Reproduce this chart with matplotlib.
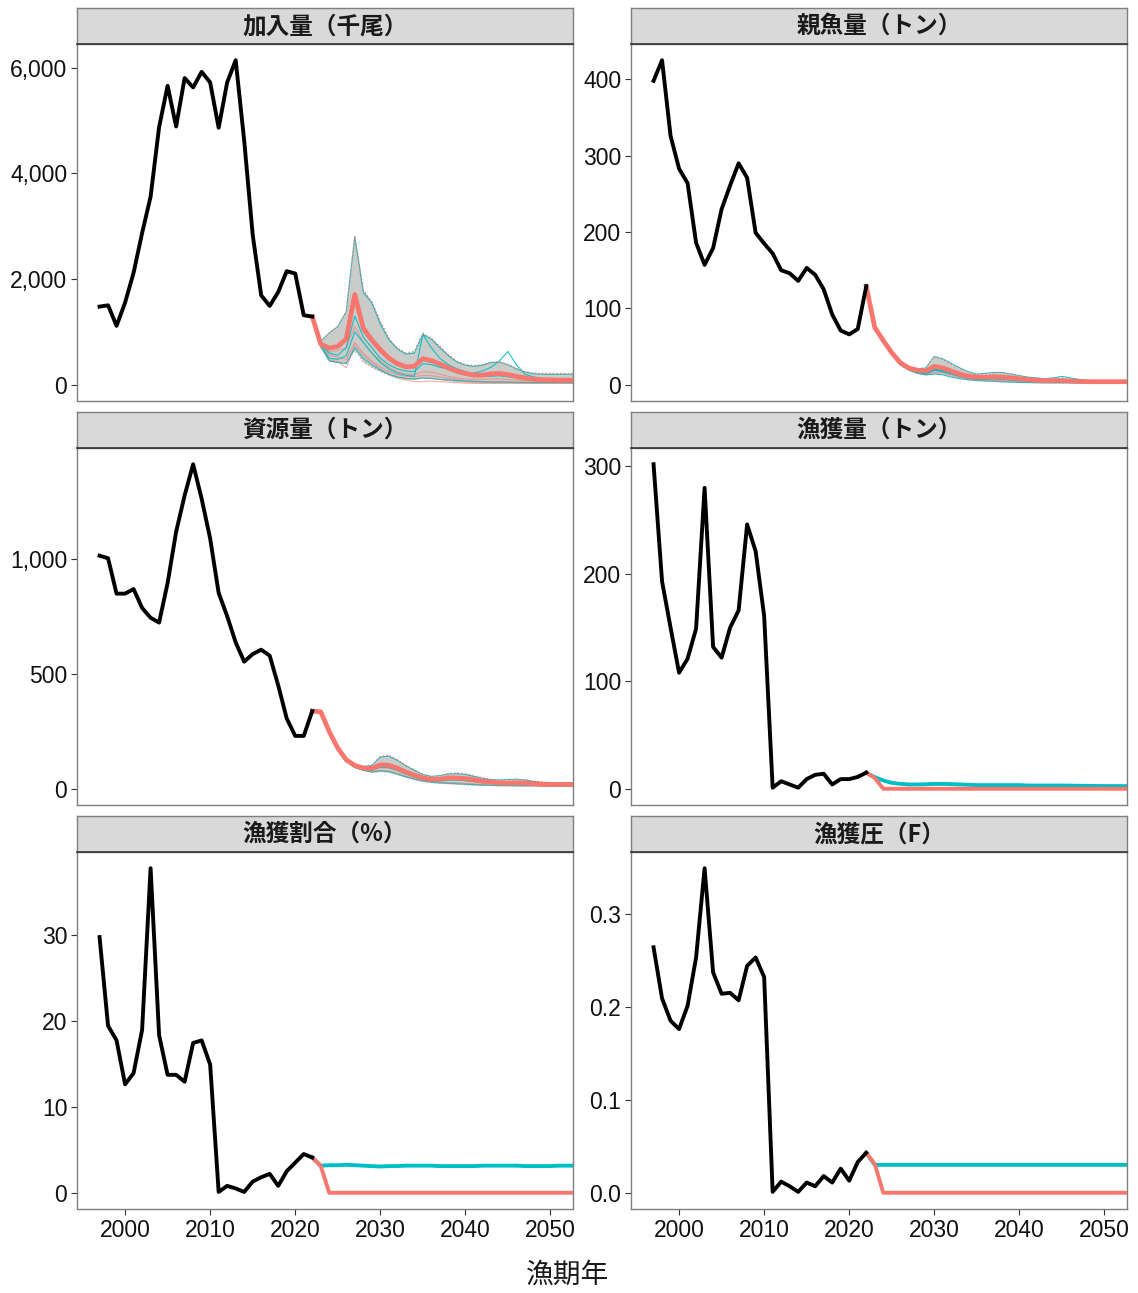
import matplotlib
matplotlib.use("Agg")
import matplotlib.pyplot as plt
import numpy as np
from matplotlib.ticker import FuncFormatter

plt.rcParams["font.family"] = ["Liberation Sans", "Noto Sans CJK JP", "DejaVu Sans"]

SALMON = "#F8766D"
CYAN = "#00BFC4"

YEARS_OBS = np.arange(1997, 2023)
YEARS_PRJ = np.arange(2023, 2054)

TITLES = ["加入量（千尾）", "親魚量（トン）", "資源量（トン）",
          "漁獲量（トン）", "漁獲割合（%）", "漁獲圧（F）"]

# ---- 観測値 (1997-2022)
rec_obs = [1478, 1503, 1115, 1553, 2117, 2868, 3557, 4873, 5655, 4885, 5800, 5624, 5918,
           5718, 4860, 5718, 6138, 4622, 2837, 1691, 1491, 1754, 2148, 2104, 1315, 1290]
ssb_obs = [398, 425, 326, 283, 264, 186, 157, 179, 230, 261, 290, 271, 199,
           185, 172, 150, 146, 136, 153, 144, 125, 92, 71, 66, 73, 129]
bio_obs = [1014, 1003, 849, 849, 869, 787, 744, 723, 895, 1118, 1276, 1412, 1262,
           1089, 852, 751, 637, 553, 586, 605, 579, 450, 306, 230, 230, 338]
cat_obs = [302, 193, 150, 108, 121, 149, 280, 132, 122, 150, 166, 246, 221,
           161, 1, 7, 4, 1, 9, 13, 14, 4, 9, 9, 11, 15]
pct_obs = [29.7, 19.4, 17.7, 12.6, 13.9, 18.9, 37.7, 18.3, 13.7, 13.7, 12.9, 17.4, 17.7,
           14.9, 0.1, 0.8, 0.5, 0.1, 1.3, 1.8, 2.2, 0.8, 2.5, 3.5, 4.5, 4.1]
f_obs = [0.264, 0.209, 0.185, 0.176, 0.201, 0.253, 0.349, 0.237, 0.214, 0.215, 0.207, 0.244, 0.253,
         0.232, 0.001, 0.012, 0.007, 0.001, 0.011, 0.007, 0.018, 0.011, 0.026, 0.013, 0.033, 0.043]

# ---- 将来予測 (2023-2053)  加入量
rec_med_s = [769, 694, 725, 869, 1706, 1069, 850, 663, 506, 400, 338, 350, 494, 456, 394, 319,
             256, 213, 181, 181, 206, 213, 194, 156, 131, 106, 94, 94, 88, 88, 88]
rec_med_c = [770, 690, 720, 860, 1650, 1030, 820, 640, 490, 390, 330, 340, 470, 440, 380, 300,
             240, 200, 170, 170, 190, 200, 180, 145, 120, 100, 85, 80, 75, 75, 75]
rec_hi = [819, 975, 1100, 1381, 2806, 1788, 1569, 1194, 881, 694, 600, 631, 975, 881, 725, 569,
          444, 381, 363, 381, 425, 431, 381, 306, 244, 219, 213, 213, 213, 213, 213]
rec_lo = [740, 440, 430, 420, 650, 430, 330, 250, 180, 130, 110, 100, 130, 120, 100, 80,
          60, 50, 45, 40, 40, 40, 38, 36, 35, 35, 35, 35, 35, 35, 35]
rec_thin_c = [
    [820, 980, 1100, 1380, 2800, 1750, 1550, 1150, 850, 680, 580, 600, 950, 860, 700, 550,
     430, 370, 350, 370, 420, 430, 380, 300, 240, 210, 200, 200, 200, 200, 200],
    [780, 600, 560, 700, 1300, 900, 700, 500, 380, 300, 260, 250, 400, 380, 330, 300,
     260, 230, 220, 260, 330, 450, 630, 380, 200, 150, 120, 110, 100, 100, 100],
    [760, 500, 480, 550, 1000, 800, 600, 420, 300, 220, 180, 160, 950, 700, 500, 380,
     300, 250, 200, 170, 160, 170, 150, 130, 110, 100, 90, 80, 80, 80, 80],
    [720, 450, 420, 400, 700, 500, 380, 280, 200, 150, 120, 110, 130, 120, 100, 90,
     80, 70, 60, 55, 50, 50, 50, 45, 45, 40, 40, 40, 40, 40, 40],
]
rec_thin_s = [
    [740, 560, 520, 480, 800, 600, 450, 340, 250, 190, 160, 150, 180, 170, 150, 120,
     100, 80, 70, 60, 60, 60, 55, 50, 50, 45, 45, 45, 45, 45, 45],
    [700, 470, 440, 320, 750, 560, 420, 300, 200, 130, 90, 60, 60, 70, 60, 50,
     40, 30, 25, 25, 25, 25, 25, 25, 25, 25, 25, 25, 25, 25, 25],
    [760, 620, 650, 700, 1100, 800, 600, 450, 330, 250, 200, 190, 250, 240, 200, 160,
     130, 110, 100, 100, 110, 110, 100, 90, 80, 70, 60, 60, 60, 60, 60],
]

# 親魚量
ssb_med_s = [75, 58, 42, 29, 22, 19, 18, 24, 22, 18, 14, 11, 10, 10, 10.5, 10,
             9, 8, 7, 6, 5.5, 5.5, 5.5, 5, 4.5, 4, 4, 4, 4, 4, 4]
ssb_med_c = [75, 57, 41, 28, 21, 17, 15, 20, 18, 15, 12, 9.5, 8, 8, 8.5, 8,
             7, 6, 5.5, 5, 4.5, 4.5, 4.5, 4, 3.8, 3.5, 3.2, 3, 3, 3, 3]
ssb_hi = [75, 59, 43, 30, 23, 21, 21, 37, 33, 27, 21, 16.5, 13, 14, 15.5, 15.5,
          14, 11, 9, 8, 7, 8, 9, 7, 6, 5, 5, 5, 5, 5, 5]
ssb_lo = [74, 55, 39, 26, 19, 15, 13, 15, 14, 11, 9, 7, 6, 5, 4.5, 4,
          3.5, 3, 2.8, 2.6, 2.5, 2.5, 2.5, 2.5, 2.4, 2.3, 2.2, 2.2, 2.2, 2.2, 2.2]
ssb_thin_c = [
    [75, 58, 43, 30, 23, 21, 22, 37, 34, 28, 22, 17, 14, 15, 16, 16,
     14, 12, 10, 9, 8, 9, 11, 9, 7, 6, 5, 5, 5, 5, 5],
    [74, 55, 39, 26, 19, 15, 13, 14, 13, 10, 8, 6.5, 5.5, 5, 4.5, 4,
     3.5, 3, 3, 2.8, 2.6, 2.5, 2.5, 2.5, 2.4, 2.3, 2.2, 2.2, 2.2, 2.2, 2.2],
]
ssb_thin_s = [
    [75, 56, 41, 28, 21, 17, 15, 25, 23, 19, 15, 12, 10, 10, 11, 11,
     10, 8, 7, 6, 5.5, 5, 5, 4.8, 4.5, 4, 4, 4, 4, 4, 4],
    [74, 55, 40, 27, 20, 16, 14, 17, 16, 13, 10, 8, 7, 6.5, 6, 5.5,
     5, 4.5, 4, 3.8, 3.5, 3.3, 3.2, 3, 3, 3, 3, 3, 3, 3, 3],
]

# 資源量
bio_med_s = [335, 249, 177, 126, 102, 90, 88, 104, 102, 90, 73, 59, 47, 41, 42, 47,
             47, 44, 39, 33, 29, 26, 25, 26, 25, 22, 19, 19, 19, 19, 19]
bio_med_c = [333, 246, 174, 122, 97, 86, 83, 97, 95, 83, 67, 54, 43, 37, 37, 41,
             41, 38, 34, 29, 26, 23, 22, 23, 22, 19, 17, 16, 16, 16, 16]
bio_hi = [335, 252, 184, 134, 104, 98, 102, 141, 145, 126, 102, 83, 62, 52, 55, 66,
          69, 65, 57, 47, 40, 37, 36, 40, 40, 33, 30, 26, 25, 25, 25]
bio_lo = [330, 245, 170, 118, 92, 80, 72, 75, 72, 62, 50, 40, 32, 27, 24, 22,
          20, 18, 16, 15, 14, 13, 13, 12, 12, 12, 12, 12, 12, 12, 12]
bio_thin_c = [
    [335, 251, 182, 132, 104, 97, 101, 138, 142, 124, 100, 80, 62, 54, 57, 64,
     66, 62, 54, 46, 40, 38, 40, 42, 38, 32, 28, 25, 24, 24, 24],
    [330, 244, 170, 119, 93, 80, 73, 78, 75, 64, 52, 42, 34, 29, 26, 24,
     22, 20, 18, 16, 15, 14, 14, 13, 13, 13, 13, 13, 13, 13, 13],
]
bio_thin_s = [
    [333, 248, 175, 124, 99, 88, 84, 92, 90, 80, 66, 53, 43, 38, 38, 42,
     42, 39, 35, 30, 26, 24, 23, 24, 23, 20, 18, 18, 18, 18, 18],
    [331, 246, 171, 119, 93, 81, 75, 80, 77, 67, 55, 44, 36, 31, 28, 27,
     26, 24, 21, 18, 16, 15, 15, 15, 14, 14, 14, 14, 14, 14, 14],
]

# 漁獲量・漁獲割合・F (2023-2053)
cat_s = [10] + [0] * 30
cat_c = [10.8, 7.7, 5.5, 4.6, 4.0, 4.0, 4.2, 4.5, 4.5, 4.3, 4.0, 3.7, 3.4, 3.4, 3.4, 3.4,
         3.4, 3.4, 3.0, 3.0, 3.0, 3.0, 3.0, 2.9, 2.8, 2.7, 2.6, 2.5, 2.5, 2.5, 2.5]
pct_s = [3.1] + [0] * 30
pct_c = [3.15, 3.2, 3.2, 3.25, 3.2, 3.15, 3.1, 3.05, 3.1, 3.1, 3.15, 3.15, 3.15, 3.15, 3.1, 3.1,
         3.1, 3.1, 3.1, 3.15, 3.15, 3.15, 3.15, 3.15, 3.1, 3.1, 3.1, 3.1, 3.15, 3.15, 3.15]
f_s = [0.031] + [0] * 30
f_c = [0.030] * 31

PANELS = [
    (rec_obs, rec_med_s, rec_med_c, rec_hi, rec_lo, rec_thin_s, rec_thin_c, [0, 2000, 4000, 6000]),
    (ssb_obs, ssb_med_s, ssb_med_c, ssb_hi, ssb_lo, ssb_thin_s, ssb_thin_c, [0, 100, 200, 300, 400]),
    (bio_obs, bio_med_s, bio_med_c, bio_hi, bio_lo, bio_thin_s, bio_thin_c, [0, 500, 1000]),
    (cat_obs, cat_s, cat_c, None, None, [], [], [0, 100, 200, 300]),
    (pct_obs, pct_s, pct_c, None, None, [], [], [0, 10, 20, 30]),
    (f_obs, f_s, f_c, None, None, [], [], [0.0, 0.1, 0.2, 0.3]),
]

W, H = 1138, 1293
fig = plt.figure(figsize=(W / 100, H / 100), dpi=100)

lefts = [77, 631]
pw = 496
tops = [44, 448, 852]
ph = 357
sh = 36

x0, x1 = 1994.35, 2052.65


def fmt(v, pos, is_f):
    if is_f:
        return f"{v:.1f}"
    return f"{v:,.0f}"


for i, (obs, med_s, med_c, hi, lo, thin_s, thin_c, yt) in enumerate(PANELS):
    r, c = divmod(i, 2)
    L, T = lefts[c], tops[r]
    ax = fig.add_axes([L / W, 1 - (T + ph) / H, pw / W, ph / H])
    sax = fig.add_axes([L / W, 1 - T / H, pw / W, sh / H])

    yrs_p = np.concatenate([[2022], YEARS_PRJ])
    big = hi is not None
    if big:
        ax.fill_between(YEARS_PRJ, lo, hi, color="#A8ABA8", alpha=0.6, lw=0, zorder=1)
        for tr in thin_s:
            ax.plot(YEARS_PRJ, tr, color=SALMON, lw=0.8, alpha=0.6, zorder=2)
        for tr in thin_c:
            ax.plot(YEARS_PRJ, tr, color=CYAN, lw=0.8, alpha=0.9, zorder=3)
        ax.plot(YEARS_PRJ, hi, color=SALMON, lw=1.0, ls=":", zorder=3)
        ax.plot(YEARS_PRJ, lo, color=SALMON, lw=1.0, ls=":", alpha=0.6, zorder=3)
        ax.plot(yrs_p, [obs[-1]] + med_c, color=CYAN, lw=1.8, zorder=4)
        ax.plot(yrs_p, [obs[-1]] + med_s, color=SALMON, lw=3.4, zorder=5)
    else:
        ax.plot(yrs_p, [obs[-1]] + med_c, color=CYAN, lw=2.8, zorder=4)
        ax.plot(yrs_p, [obs[-1]] + med_s, color=SALMON, lw=2.8, zorder=5)
    ax.plot(YEARS_OBS, obs, color="black", lw=2.8, zorder=6)

    vmax = max(obs)
    if big:
        vmax = max(vmax, max(hi))
    ax.set_ylim(-0.05 * vmax, 1.05 * vmax)
    ax.set_xlim(x0, x1)
    ax.set_yticks(yt)
    is_f = (i == 5)
    ax.yaxis.set_major_formatter(FuncFormatter(lambda v, p, f=is_f: fmt(v, p, f)))
    ax.set_xticks([2000, 2010, 2020, 2030, 2040, 2050])
    ax.tick_params(axis="both", length=4, width=0.8, color="#333333",
                   labelsize=16.5, labelcolor="#111111", pad=3)
    if r < 2:
        ax.tick_params(axis="x", length=0, labelbottom=False)
    for s in ax.spines.values():
        s.set_color("#7F7F7F")
        s.set_linewidth(1.0)

    sax.set_facecolor("#D9D9D9")
    sax.set_xticks([])
    sax.set_yticks([])
    for s in sax.spines.values():
        s.set_color("#7F7F7F")
        s.set_linewidth(1.0)
    sax.spines["bottom"].set_color("#333333")
    sax.spines["bottom"].set_linewidth(1.2)
    sax.text(0.5, 0.5, TITLES[i], ha="center", va="center", fontsize=17,
             fontweight="bold", color="#1a1a1a",
             family=["Noto Sans CJK JP", "DejaVu Sans"], transform=sax.transAxes)

fig.text(568 / W, 1 - 1275 / H, "漁期年", ha="center", va="center", fontsize=20,
         color="#1a1a1a", family=["Noto Sans CJK JP", "DejaVu Sans"])

fig.savefig("out.png", dpi=100, facecolor="white")
